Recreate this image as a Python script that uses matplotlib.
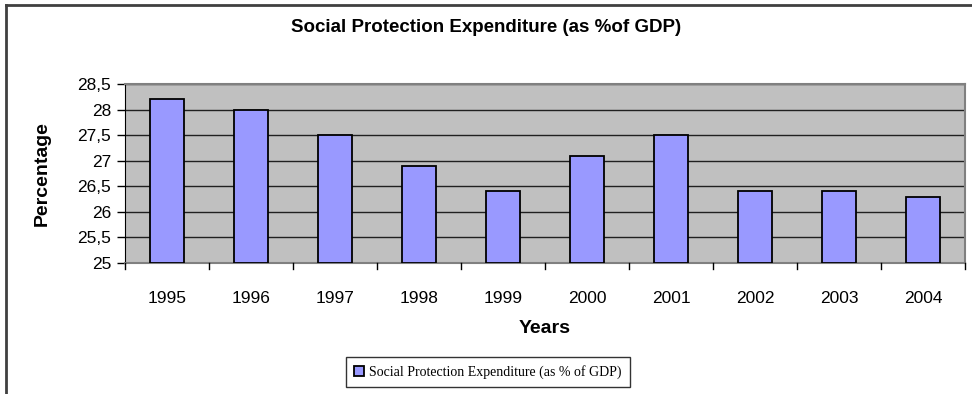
import matplotlib.pyplot as plt
from matplotlib.lines import Line2D

years = ['1995', '1996', '1997', '1998', '1999', '2000', '2001', '2002', '2003', '2004']
expenditure = [28.2, 28.0, 27.5, 26.9, 26.4, 27.1, 27.5, 26.4, 26.4, 26.3]
y_ticks = [25, 25.5, 26, 26.5, 27, 27.5, 28, 28.5]
y_tick_labels = ['25', '25,5', '26', '26,5', '27', '27,5', '28', '28,5']
series_name = 'Social Protection Expenditure (as % of GDP)'

plt.rcParams['font.family'] = ['Liberation Sans', 'DejaVu Sans']

W, H = 972, 394
fig = plt.figure(figsize=(W / 100, H / 100), dpi=100)

# plot area in pixel coordinates
left, right, top, bottom = 125, 965, 84, 263
ax = fig.add_axes([left / W, 1 - bottom / H, (right - left) / W, (bottom - top) / H])
ax.set_facecolor('#c0c0c0')

x = range(len(years))
ax.bar(x, [v - 25 for v in expenditure], bottom=25, width=0.41,
       color='#9999ff', edgecolor='black', linewidth=1.3, zorder=3,
       label=series_name)

ax.set_xlim(-0.5, len(years) - 0.5)
ax.set_ylim(25, 28.5)
ax.set_yticks(y_ticks)
ax.set_yticklabels(y_tick_labels, fontsize=12.5)
ax.set_xticks(x)
ax.set_xticklabels(years, fontsize=12.5)
ax.tick_params(axis='x', length=0, pad=20)
ax.tick_params(axis='y', length=6, width=1, pad=4, direction='out')

# category separator ticks on the x axis
for b in [i - 0.5 for i in range(len(years) + 1)]:
    ax.plot([b, b], [25, 24.88], color='black', lw=1, clip_on=False, zorder=4)

ax.grid(axis='y', color='#202020', linewidth=1, zorder=1)
ax.set_axisbelow(True)

for side in ['top', 'right', 'bottom']:
    ax.spines[side].set_color('#808080')
    ax.spines[side].set_linewidth(1.5)
ax.spines['left'].set_color('black')

ax.set_ylabel('Percentage', fontsize=14, fontweight='bold', labelpad=19)
ax.set_xlabel('Years', fontsize=14, fontweight='bold', labelpad=10)

fig.text(486 / W, 1 - 28 / H, 'Social Protection Expenditure (as %of GDP)',
         ha='center', va='center', fontsize=13.5, fontweight='bold')

# outer chart border (left and top)
fig.add_artist(Line2D([5.5 / W, 5.5 / W], [0, 1 - 5 / H], color='#404040', lw=2,
                      transform=fig.transFigure))
fig.add_artist(Line2D([5.5 / W, 1], [1 - 5 / H, 1 - 5 / H], color='#404040', lw=2,
                      transform=fig.transFigure))

leg = fig.legend(loc='center', bbox_to_anchor=(488 / W, 1 - 372 / H),
                 prop={'family': 'Liberation Serif', 'size': 10},
                 frameon=True, fancybox=False, handlelength=0.7, handleheight=0.7,
                 handletextpad=0.4, borderpad=0.55)
leg.get_frame().set_edgecolor('black')
leg.get_frame().set_linewidth(1)

fig.savefig('out.png', dpi=100)
